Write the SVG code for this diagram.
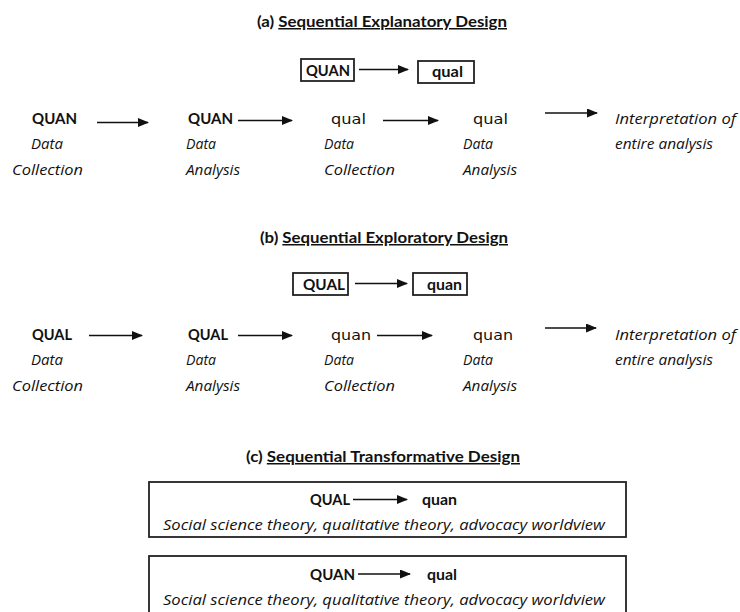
<svg xmlns="http://www.w3.org/2000/svg" width="740" height="612" viewBox="0 0 740 612">
  <style>
    text { fill: #111; }
    .title { font-family: Lato, "Liberation Sans", sans-serif; font-size: 15px; font-weight: bold; }
    .u { text-decoration: underline; }
    .b { font-family: Lato, "Liberation Sans", sans-serif; font-size: 16px; font-weight: bold; }
    .n { font-family: "DejaVu Sans", Verdana, sans-serif; font-size: 14px; }
    .i { font-family: "Open Sans", "Liberation Sans", sans-serif; font-size: 14.5px; font-style: italic; }
    .box { fill: #fff; stroke: #222; stroke-width: 1.8; }
    .arr { stroke: #111; stroke-width: 1.7; fill: none; marker-end: url(#head); }
  </style>
  <defs>
    <marker id="head" markerWidth="11" markerHeight="9" refX="10" refY="4.5" orient="auto" markerUnits="userSpaceOnUse">
      <path d="M0,0 L11,4.5 L0,9 Z" fill="#111"/>
    </marker>
  </defs>
  <rect width="740" height="612" fill="#fff"/>

  <!-- (a) Sequential Explanatory Design -->
  <g id="title-a">
    <text x="257" y="27" class="title" textLength="250" lengthAdjust="spacingAndGlyphs">(a) <tspan class="u">Sequential Explanatory Design</tspan></text>
  </g>
  <g id="a-box-quan">
    <rect x="301" y="59" width="53" height="22" class="box"/>
    <text x="306" y="76" class="b" textLength="44" lengthAdjust="spacingAndGlyphs">QUAN</text>
  </g>
  <g id="a-box-qual">
    <rect x="418" y="61" width="56" height="22" class="box"/>
    <text x="432" y="77" class="b" textLength="31" lengthAdjust="spacingAndGlyphs">qual</text>
  </g>
  <g id="a-step1">
    <text x="32" y="124" class="b" textLength="45" lengthAdjust="spacingAndGlyphs">QUAN</text>
    <text x="31" y="149" class="i" textLength="32" lengthAdjust="spacingAndGlyphs">Data</text>
    <text x="12" y="175" class="i" textLength="71" lengthAdjust="spacingAndGlyphs">Collection</text>
  </g>
  <g id="a-step2">
    <text x="188" y="124" class="b" textLength="45" lengthAdjust="spacingAndGlyphs">QUAN</text>
    <text x="186" y="149" class="i" textLength="30" lengthAdjust="spacingAndGlyphs">Data</text>
    <text x="186" y="175" class="i" textLength="54" lengthAdjust="spacingAndGlyphs">Analysis</text>
  </g>
  <g id="a-step3">
    <text x="331" y="124" class="n" textLength="35" lengthAdjust="spacingAndGlyphs">qual</text>
    <text x="324" y="149" class="i" textLength="30" lengthAdjust="spacingAndGlyphs">Data</text>
    <text x="324" y="175" class="i" textLength="71" lengthAdjust="spacingAndGlyphs">Collection</text>
  </g>
  <g id="a-step4">
    <text x="473" y="124" class="n" textLength="35" lengthAdjust="spacingAndGlyphs">qual</text>
    <text x="463" y="149" class="i" textLength="30" lengthAdjust="spacingAndGlyphs">Data</text>
    <text x="463" y="175" class="i" textLength="54" lengthAdjust="spacingAndGlyphs">Analysis</text>
  </g>
  <g id="a-result">
    <text x="615" y="124" class="i" textLength="121" lengthAdjust="spacingAndGlyphs">Interpretation of</text>
    <text x="615" y="149" class="i" textLength="98" lengthAdjust="spacingAndGlyphs">entire analysis</text>
  </g>

  <!-- (b) Sequential Exploratory Design -->
  <g id="title-b">
    <text x="260" y="243" class="title" textLength="248" lengthAdjust="spacingAndGlyphs">(b) <tspan class="u">Sequential Exploratory Design</tspan></text>
  </g>
  <g id="b-box-qual">
    <rect x="293" y="273" width="55" height="22" class="box"/>
    <text x="303" y="290" class="b" textLength="42" lengthAdjust="spacingAndGlyphs">QUAL</text>
  </g>
  <g id="b-box-quan">
    <rect x="413" y="273" width="54" height="22" class="box"/>
    <text x="427" y="290" class="b" textLength="35" lengthAdjust="spacingAndGlyphs">quan</text>
  </g>
  <g id="b-step1">
    <text x="32" y="340" class="b" textLength="40" lengthAdjust="spacingAndGlyphs">QUAL</text>
    <text x="31" y="365" class="i" textLength="32" lengthAdjust="spacingAndGlyphs">Data</text>
    <text x="12" y="391" class="i" textLength="71" lengthAdjust="spacingAndGlyphs">Collection</text>
  </g>
  <g id="b-step2">
    <text x="188" y="340" class="b" textLength="40" lengthAdjust="spacingAndGlyphs">QUAL</text>
    <text x="186" y="365" class="i" textLength="30" lengthAdjust="spacingAndGlyphs">Data</text>
    <text x="186" y="391" class="i" textLength="54" lengthAdjust="spacingAndGlyphs">Analysis</text>
  </g>
  <g id="b-step3">
    <text x="331" y="340" class="n" textLength="40" lengthAdjust="spacingAndGlyphs">quan</text>
    <text x="324" y="365" class="i" textLength="30" lengthAdjust="spacingAndGlyphs">Data</text>
    <text x="324" y="391" class="i" textLength="71" lengthAdjust="spacingAndGlyphs">Collection</text>
  </g>
  <g id="b-step4">
    <text x="473" y="340" class="n" textLength="40" lengthAdjust="spacingAndGlyphs">quan</text>
    <text x="463" y="365" class="i" textLength="30" lengthAdjust="spacingAndGlyphs">Data</text>
    <text x="463" y="391" class="i" textLength="54" lengthAdjust="spacingAndGlyphs">Analysis</text>
  </g>
  <g id="b-result">
    <text x="615" y="340" class="i" textLength="121" lengthAdjust="spacingAndGlyphs">Interpretation of</text>
    <text x="615" y="365" class="i" textLength="98" lengthAdjust="spacingAndGlyphs">entire analysis</text>
  </g>

  <!-- (c) Sequential Transformative Design -->
  <g id="title-c">
    <text x="246" y="462" class="title" textLength="274" lengthAdjust="spacingAndGlyphs">(c) <tspan class="u">Sequential Transformative Design</tspan></text>
  </g>
  <g id="c-box1">
    <rect x="149" y="482" width="477" height="55" class="box"/>
    <text x="310" y="505" class="b" textLength="40" lengthAdjust="spacingAndGlyphs">QUAL</text>
    <text x="422" y="505" class="b" textLength="35" lengthAdjust="spacingAndGlyphs">quan</text>
    <text x="163" y="529.5" class="i" textLength="442" lengthAdjust="spacingAndGlyphs">Social science theory, qualitative theory, advocacy worldview</text>
  </g>
  <g id="c-box2">
    <rect x="149" y="556" width="477" height="64" class="box"/>
    <text x="310" y="580" class="b" textLength="45" lengthAdjust="spacingAndGlyphs">QUAN</text>
    <text x="427" y="580" class="b" textLength="30" lengthAdjust="spacingAndGlyphs">qual</text>
    <text x="163" y="604.5" class="i" textLength="442" lengthAdjust="spacingAndGlyphs">Social science theory, qualitative theory, advocacy worldview</text>
  </g>

  <!-- connectors -->
  <g id="connectors">
    <line x1="359" y1="69.5" x2="408" y2="69.5" class="arr"/>
    <line x1="97" y1="122.5" x2="148" y2="122.5" class="arr"/>
    <line x1="238" y1="120.5" x2="292" y2="120.5" class="arr"/>
    <line x1="383" y1="120.5" x2="438" y2="120.5" class="arr"/>
    <line x1="545" y1="113" x2="597" y2="113" class="arr"/>

    <line x1="355" y1="283.5" x2="407" y2="283.5" class="arr"/>
    <line x1="89" y1="335.5" x2="142" y2="335.5" class="arr"/>
    <line x1="238" y1="335.5" x2="292" y2="335.5" class="arr"/>
    <line x1="377" y1="335.5" x2="432" y2="335.5" class="arr"/>
    <line x1="545" y1="328" x2="596" y2="328" class="arr"/>

    <line x1="353" y1="499.5" x2="407" y2="499.5" class="arr"/>
    <line x1="358" y1="574" x2="410" y2="574" class="arr"/>
  </g>
</svg>
